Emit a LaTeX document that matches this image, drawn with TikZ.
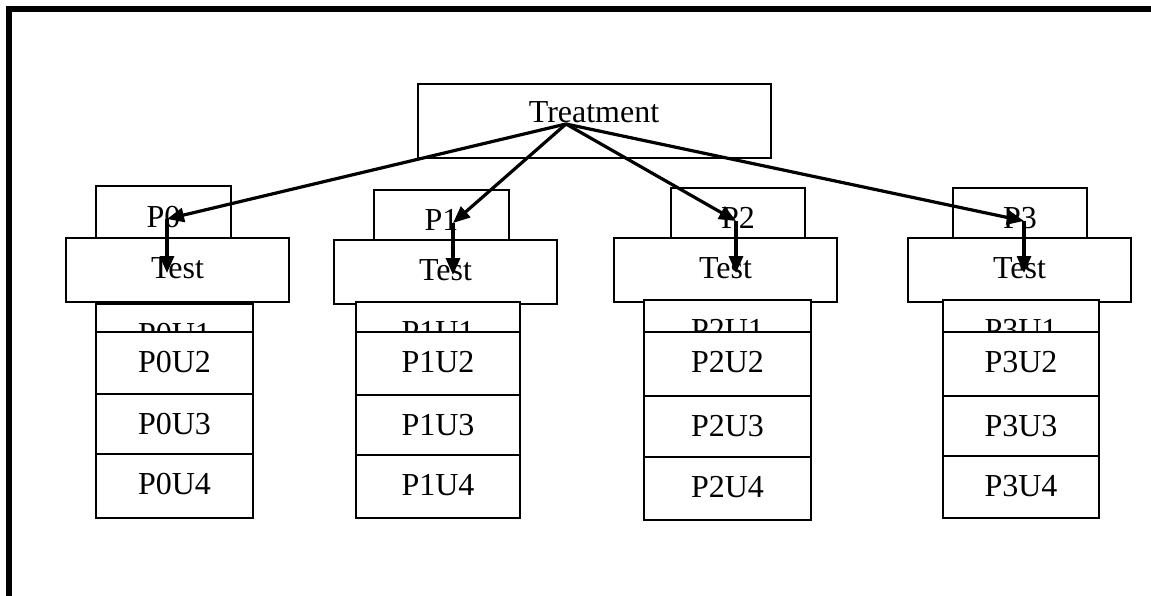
\documentclass[tikz,border=0pt]{standalone}
\usepackage{fontspec}
\setmainfont{Liberation Serif}
\usetikzlibrary{arrows.meta}

% rectangle node from corner (x1,y1) to (x2,y2): \rectnode{name}{x1}{y1}{x2}{y2}
\newcommand\rectnode[5]{%
  \node[box, minimum width={(#4)-(#2)}, minimum height={(#5)-(#3)}]
    (#1) at ({((#2)+(#4))/2},{((#3)+(#5))/2}) {};}

\begin{document}
\begin{tikzpicture}[x=1pt,y=-1pt,
  box/.style={draw=black, line width=1.3pt, fill=white, inner sep=0pt, outer sep=0pt},
  lbl/.style={anchor=base, inner sep=0pt, font=\fontsize{32}{37}\selectfont},
  link/.style={line width=3.2pt, -{Triangle[length=17pt,width=14pt]}},
  frame/.style={line width=6pt}]
\useasboundingbox (0,0) rectangle (1151,596);

% outer frame (top and left edges)
\draw[frame] (9,596) -- (9,9) -- (1151,9);

% root box
\rectnode{treat}{418}{84}{771}{158}
\node[lbl] (treatlbl) at (594,123) {Treatment};
\coordinate (src) at (566,124);

% one column per group: P box, Test box, four unit boxes
\foreach \i/\pa/\pb/\pt/\ax/\ta/\tb/\tt/\ua/\ub/\uone/\utwo/\uthree/\ufour/\ubot in {
  0/96/231/186/167/66/289/238/96/253/304/332/394/454/518,
  1/374/509/190/453/334/557/240/356/520/302/332/395/455/518,
  2/671/805/188/736/614/837/238/644/811/300/332/396/457/520,
  3/953/1087/188/1024/908/1131/238/943/1099/300/332/396/456/518}{
  \rectnode{p\i}{\pa}{\pt}{\pb}{\pt+60}
  \node[lbl] (plbl\i) at ({(\pa+\pb)/2},{\pt+41}) {P\i};
  \rectnode{t\i}{\ta}{\tt}{\tb}{\tt+64}
  \node[lbl] (tlbl\i) at ({(\ta+\tb)/2},{\tt+40}) {Test};
  \rectnode{u\i a}{\ua}{\uone}{\ub}{\uone+60}
  \node[lbl] (ulbl\i a) at ({(\ua+\ub)/2},{\uone+40}) {P\i U1};
  \rectnode{u\i b}{\ua}{\utwo}{\ub}{\uthree}
  \node[lbl] (ulbl\i b) at ({(\ua+\ub)/2},{\utwo+40}) {P\i U2};
  \rectnode{u\i c}{\ua}{\uthree}{\ub}{\ufour}
  \node[lbl] (ulbl\i c) at ({(\ua+\ub)/2},{\uthree+40}) {P\i U3};
  \rectnode{u\i d}{\ua}{\ufour}{\ub}{\ubot}
  \node[lbl] (ulbl\i d) at ({(\ua+\ub)/2},{\ufour+40}) {P\i U4};
  \coordinate (pin\i) at (\ax,{\pt+33});
  \coordinate (tin\i) at (\ax,{\tt+35});
}

% connectors
\foreach \i in {0,1,2,3}{
  \draw[link] (src) -- (pin\i);
  \draw[link] (pin\i) -- (tin\i);
}
\end{tikzpicture}
\end{document}
